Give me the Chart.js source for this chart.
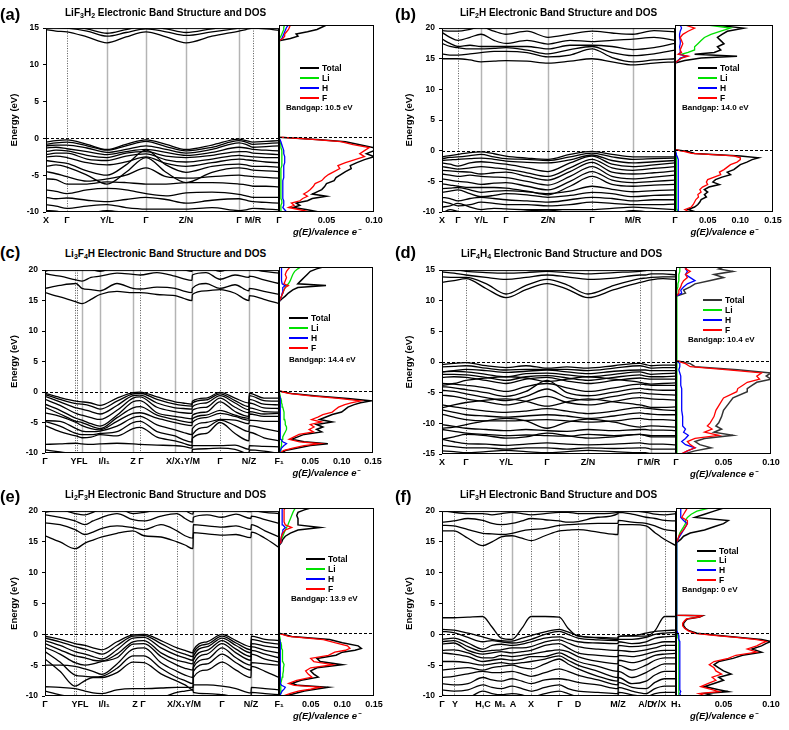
<!DOCTYPE html>
<html><head><meta charset="utf-8">
<script src="https://cdn.jsdelivr.net/npm/chart.js@4.4.1/dist/chart.umd.min.js"></script>
<style>
body{margin:0;background:#fff;width:789px;height:730px;position:relative;overflow:hidden;font-family:"Liberation Sans",Arial,sans-serif;color:#000;}
.lbl{position:absolute;font-weight:bold;font-size:16.5px;line-height:16px;}
.ttl{position:absolute;font-weight:bold;font-size:10px;line-height:10px;white-space:nowrap;}
.ttl sub{font-size:0.7em;vertical-align:-0.35em;line-height:0;}
.lg{position:absolute;font-weight:bold;font-size:8.5px;line-height:8.5px;white-space:nowrap;}
.bar{position:absolute;height:2px;}
</style></head><body>
<script>
// ---------- (a) LiF3H2 ----------
const kA=[0,10,21,41,61,80,100,120,140,166,193,200,207,220,233];
const tickPosA=[0,21,61,100,140,193,207];
const tickLabA=['X','Γ','Y/L','Γ','Z/N','Γ','M/R'];
const linesA=[21,61,100,140,193,207];
const stylesA=['d','g','g','g','g','d'];
const bandsA=[
[-0.5,-0.3,-0.2,-0.8,-1.5,-0.8,-0.2,-0.8,-1.5,-0.9,-0.1,-0.3,-0.5,-0.4,-0.3],
[-0.8,-0.6,-0.5,-1.0,-1.6,-1.0,-0.4,-1.1,-1.7,-1.2,-0.3,-0.5,-0.8,-0.7,-0.6],
[-1.0,-0.9,-0.9,-1.3,-1.9,-1.5,-1.0,-1.5,-2.0,-1.5,-0.6,-0.8,-1.2,-1.1,-1.0],
[-1.3,-1.2,-1.4,-1.8,-2.2,-1.8,-1.5,-1.9,-2.3,-1.9,-1.2,-1.3,-1.5,-1.6,-1.7],
[-1.8,-1.6,-1.7,-2.3,-2.6,-2.0,-1.8,-2.4,-2.6,-2.3,-1.8,-1.8,-2.0,-2.1,-2.2],
[-2.2,-2.0,-2.0,-2.8,-3.0,-2.4,-2.1,-2.9,-3.2,-2.8,-2.3,-2.4,-2.5,-2.6,-2.6],
[-2.5,-2.4,-2.6,-3.3,-3.6,-3.2,-2.5,-3.4,-3.8,-3.3,-2.8,-2.9,-3.0,-3.2,-3.3],
[-3.0,-3.2,-3.4,-4.4,-5.0,-3.6,-1.6,-3.6,-4.6,-3.8,-3.5,-3.6,-3.8,-3.8,-3.9],
[-3.8,-3.6,-3.9,-5.0,-6.2,-4.6,-2.6,-4.6,-6.0,-4.6,-4.0,-4.1,-4.3,-4.4,-4.5],
[-4.5,-4.8,-5.2,-5.8,-5.5,-5.0,-4.0,-5.2,-5.4,-5.2,-5.0,-5.1,-5.2,-5.3,-5.4],
[-5.5,-5.6,-6.2,-6.2,-5.9,-6.0,-6.2,-6.2,-6.0,-6.0,-6.2,-6.3,-6.5,-6.5,-6.6],
[-7.0,-7.2,-7.5,-7.0,-6.8,-7.0,-7.5,-7.8,-7.4,-7.3,-7.6,-7.8,-8.0,-8.0,-8.0],
[-8.0,-8.2,-8.1,-8.4,-8.6,-8.3,-8.0,-8.3,-8.8,-8.4,-8.2,-8.4,-8.6,-8.7,-8.8],
[-9.0,-9.2,-9.5,-9.2,-9.0,-9.4,-9.6,-9.6,-9.6,-9.4,-9.8,-9.7,-9.5,-9.6,-9.7],
[-9.8,-9.9,-10.2,-10.2,-9.8,-10.1,-10.3,-10.2,-10.1,-10.2,-10.3,-10.2,-10.1,-10.2,-10.3],
[14.8,14.6,14.5,13.8,13.0,13.8,14.5,13.8,13.0,13.9,14.6,14.8,15.0,14.9,14.7],
[15.3,15.1,15.0,14.6,13.9,14.4,14.9,14.5,14.0,14.5,15.0,15.2,15.4,15.3,15.1],
[15.6,15.4,15.3,14.9,14.3,14.8,15.3,14.9,14.4,14.9,15.3,15.5,15.6,15.5,15.4]
];
const eDosA=[-10,-9.7,-9.4,-9.1,-8.8,-8.5,-8.2,-7.9,-7.6,-7.3,-7.0,-6.6,-6.2,-5.8,-5.4,-5.0,-4.6,-4.2,-3.8,-3.4,-3.0,-2.6,-2.2,-1.8,-1.4,-1.0,-0.6,-0.3,0,12.9,13.2,13.5,13.8,14.1,14.4,14.7,15];
const totA=[0.042,0.03,0.015,0.022,0.018,0.03,0.035,0.05,0.035,0.04,0.045,0.048,0.05,0.058,0.06,0.065,0.07,0.076,0.075,0.082,0.09,0.1,0.092,0.1,0.1,0.085,0.07,0.04,0,0,0.012,0.02,0.018,0.03,0.04,0.045,0.05];
const fA=[0.032,0.022,0.01,0.016,0.013,0.022,0.025,0.03,0.026,0.03,0.033,0.036,0.038,0.045,0.048,0.052,0.058,0.064,0.062,0.07,0.08,0.09,0.085,0.09,0.095,0.078,0.065,0.035,0,0,0.004,0.006,0.006,0.008,0.01,0.011,0.012];
const liA=[0.002,0.002,0.002,0.002,0.003,0.003,0.002,0.002,0.002,0.002,0.002,0.002,0.002,0.002,0.002,0.002,0.002,0.002,0.003,0.003,0.003,0.003,0.003,0.003,0.002,0.002,0.001,0.001,0,0,0.001,0.002,0.003,0.004,0.005,0.005,0.006];
const hA=[0.008,0.006,0.004,0.005,0.005,0.005,0.004,0.004,0.004,0.004,0.004,0.004,0.004,0.004,0.005,0.005,0.005,0.005,0.005,0.006,0.006,0.006,0.005,0.005,0.004,0.003,0.002,0.001,0,0,0.003,0.004,0.005,0.006,0.007,0.008,0.01];

// ---------- (b) LiF2H ----------
const kB=[0,8,16,28,39,52,64,85,106,128,150,170,191,212,233];
const tickPosB=[0,16,39,64,106,150,191];
const tickLabB=['X','Γ','Y/L','Γ','Z/N','Γ','M/R'];
const linesB=[16,39,64,106,150,191];
const stylesB=['d','g','g','g','d','g'];
const bandsB=[
[-1.0,-0.8,-0.6,-0.3,-0.2,-0.5,-0.9,-1.2,-1.4,-0.6,-0.1,-0.6,-1.0,-1.0,-1.0],
[-1.3,-1.1,-1.0,-0.8,-0.6,-1.0,-1.3,-1.4,-1.6,-1.0,-0.4,-1.0,-1.4,-1.3,-1.2],
[-1.6,-1.5,-1.4,-1.3,-1.2,-1.4,-1.7,-1.9,-2.0,-1.5,-0.7,-1.6,-2.0,-1.8,-1.6],
[-2.0,-2.2,-2.5,-2.0,-1.8,-2.0,-2.2,-2.8,-3.4,-2.0,-0.9,-2.2,-2.6,-2.3,-2.0],
[-2.6,-2.8,-3.0,-2.8,-2.6,-2.8,-3.0,-3.6,-4.2,-2.8,-1.4,-2.8,-3.2,-2.9,-2.6],
[-3.2,-3.3,-3.4,-3.5,-3.8,-3.6,-3.5,-4.2,-4.8,-3.4,-1.9,-3.5,-3.8,-3.6,-3.3],
[-3.8,-4.0,-4.2,-4.0,-4.2,-4.3,-4.4,-5.0,-5.6,-4.2,-2.6,-4.2,-4.6,-4.3,-4.0],
[-4.6,-4.8,-5.0,-5.2,-5.5,-5.3,-5.2,-5.8,-6.4,-5.0,-3.4,-4.8,-5.2,-5.0,-4.8],
[-5.4,-5.6,-5.8,-6.0,-6.0,-6.0,-6.1,-6.6,-7.2,-5.8,-4.2,-5.5,-5.8,-5.6,-5.5],
[-6.2,-6.1,-6.0,-6.4,-6.8,-6.6,-6.5,-6.7,-7.0,-6.6,-5.8,-6.3,-6.7,-6.5,-6.4],
[-6.8,-6.6,-6.4,-7.0,-7.5,-7.3,-7.0,-7.2,-7.6,-7.3,-6.8,-7.0,-7.5,-7.3,-7.2],
[-7.6,-7.8,-8.2,-7.8,-7.6,-7.8,-8.0,-8.2,-8.4,-8.0,-7.6,-7.8,-8.2,-8.0,-8.0],
[-8.3,-8.6,-9.0,-8.8,-8.4,-8.6,-8.8,-8.8,-9.0,-8.8,-8.4,-8.6,-8.8,-8.8,-8.7],
[-9.2,-9.0,-8.6,-9.2,-9.6,-9.4,-9.5,-9.6,-9.6,-9.6,-9.6,-9.4,-9.2,-9.4,-9.6],
[-10.2,-9.6,-9.9,-10.2,-10.3,-10.2,-10.2,-9.8,-9.7,-10.1,-10.2,-10.2,-9.8,-10.1,-10.2],
[15.0,15.0,15.0,14.8,14.5,14.6,14.7,14.6,14.3,14.6,15.0,14.5,14.0,14.3,14.5],
[15.8,15.6,15.6,15.8,16.0,16.2,16.2,16.0,15.3,15.6,16.6,15.2,14.5,14.8,15.0],
[17.5,17.0,16.8,16.6,16.6,16.7,16.8,16.4,15.8,16.5,17.0,16.0,15.5,15.8,16.4],
[18.2,17.5,17.0,17.2,17.0,17.0,17.0,17.0,16.6,17.2,17.2,17.0,16.5,16.8,17.5],
[19.3,18.5,18.0,18.5,19.0,18.0,17.5,18.0,17.4,18.0,17.8,18.0,18.2,18.5,18.0],
[19.6,19.5,19.5,19.8,20.2,19.5,19.0,19.5,18.5,19.0,19.5,19.2,19.0,19.6,19.4]
];
const eDosB=[-10,-9.6,-9.2,-8.8,-8.4,-8.0,-7.6,-7.2,-6.8,-6.4,-6.0,-5.6,-5.2,-4.8,-4.4,-4.0,-3.6,-3.2,-2.8,-2.4,-2.0,-1.6,-1.3,-1.0,-0.6,-0.3,0,13.9,14.3,14.7,15.0,15.3,15.6,16.0,16.5,17.0,17.5,18.0,18.5,19.0,19.5,20];
const totB=[0.032,0.02,0.03,0.035,0.038,0.04,0.048,0.045,0.05,0.045,0.052,0.068,0.058,0.062,0.072,0.085,0.08,0.09,0.095,0.1,0.11,0.118,0.128,0.1,0.03,0.02,0,0,0.015,0.04,0.095,0.03,0.06,0.07,0.065,0.075,0.07,0.065,0.072,0.08,0.105,0.06];
const fB=[0.022,0.015,0.025,0.028,0.03,0.032,0.036,0.035,0.04,0.038,0.042,0.05,0.048,0.05,0.06,0.07,0.068,0.075,0.08,0.085,0.095,0.1,0.1,0.09,0.025,0.015,0,0,0.005,0.01,0.02,0.005,0.01,0.008,0.01,0.012,0.01,0.008,0.012,0.02,0.03,0.015];
const liB=[0.004,0.003,0.003,0.003,0.003,0.002,0.002,0.002,0.002,0.002,0.002,0.002,0.002,0.002,0.002,0.002,0.002,0.002,0.002,0.002,0.002,0.002,0.002,0.002,0.001,0.001,0,0,0.004,0.01,0.015,0.01,0.02,0.03,0.03,0.035,0.04,0.045,0.055,0.07,0.085,0.05];
const hB=[0.006,0.005,0.005,0.005,0.005,0.005,0.005,0.005,0.005,0.005,0.005,0.005,0.005,0.005,0.005,0.005,0.005,0.005,0.005,0.005,0.005,0.005,0.004,0.003,0.002,0.001,0,0,0.005,0.008,0.018,0.006,0.008,0.008,0.007,0.008,0.008,0.007,0.007,0.008,0.01,0.008];

// ---------- (c) Li3F4H ----------
const kC=[0,15,31,37,46,55,72,88,95,112,130,138,147,147.3,161,175,190,204,204.3,219,234];
const tickPosC=[0,34,59,92,138,175,204];
const tickLabC=['Γ','YFL','I/I₁','Z Γ','X/X₁Y/M','Γ','N/Z'];
const linesC=[30,32,37,55,88,95,130,147,175,204];
const stylesC=['d','d','g','g','g','d','g','g','d','g'];
const bandsC=[
[-0.2,-0.9,-1.5,-1.6,-1.8,-2.2,-1.0,-0.1,0.0,-0.8,-1.6,-1.8,-2.0,-1.5,-1.0,-0.05,-1.0,-1.8,-0.2,-1.0,-1.0],
[-0.4,-1.2,-1.9,-2.0,-2.3,-2.8,-1.5,-0.3,-0.2,-1.2,-2.0,-2.2,-2.3,-1.8,-1.3,-0.3,-1.4,-2.4,-0.6,-1.4,-1.5],
[-0.7,-1.6,-2.6,-2.8,-3.2,-3.6,-2.2,-0.6,-0.5,-1.8,-2.6,-2.7,-2.8,-2.4,-1.8,-0.6,-1.8,-2.9,-1.2,-2.0,-2.1],
[-1.2,-2.2,-3.5,-3.8,-4.2,-4.5,-3.0,-1.0,-0.8,-2.5,-3.2,-3.4,-3.5,-3.0,-2.5,-1.0,-2.5,-3.4,-1.8,-2.6,-2.7],
[-2.0,-3.0,-4.3,-4.6,-5.2,-5.6,-3.8,-1.6,-1.4,-3.4,-4.0,-4.2,-4.4,-3.8,-3.3,-1.6,-3.2,-4.0,-2.6,-3.2,-3.3],
[-2.5,-3.6,-4.8,-5.0,-5.6,-6.0,-4.2,-2.6,-2.4,-3.8,-4.5,-4.8,-5.0,-4.4,-3.8,-3.0,-3.8,-4.3,-3.2,-3.6,-3.5],
[-3.4,-4.0,-5.0,-5.5,-6.0,-6.2,-4.8,-3.5,-3.4,-4.3,-5.0,-5.3,-5.5,-5.0,-4.2,-3.5,-4.0,-4.6,-3.6,-4.0,-4.0],
[-4.7,-4.8,-6.0,-6.4,-6.5,-6.4,-5.6,-4.2,-4.0,-5.4,-6.2,-6.6,-7.0,-6.0,-5.0,-4.5,-4.6,-5.2,-4.6,-4.8,-4.8],
[-4.8,-5.6,-6.8,-7.0,-7.0,-6.8,-6.5,-5.0,-4.8,-6.5,-7.2,-7.8,-8.2,-7.0,-5.8,-4.6,-5.5,-6.5,-5.5,-6.0,-6.5],
[-5.5,-6.5,-7.2,-7.5,-7.4,-7.0,-7.2,-6.0,-5.8,-7.4,-8.0,-8.4,-8.8,-7.6,-6.8,-5.0,-6.8,-8.0,-6.6,-7.5,-8.0],
[-8.6,-8.5,-8.4,-8.5,-8.6,-8.5,-8.4,-8.5,-8.6,-8.7,-8.8,-8.9,-9.2,-8.8,-8.8,-8.8,-8.7,-9.4,-8.8,-8.9,-9.0],
[-9.5,-9.8,-10.2,-10.3,-10.3,-10.2,-10.2,-10.3,-10.3,-10.2,-10.2,-10.3,-10.2,-9.4,-9.3,-9.2,-9.4,-10.1,-9.5,-9.7,-10.1],
[16.3,15.6,14.8,14.5,15.2,16.0,16.5,16.3,16.3,16.0,15.8,15.4,15.0,16.0,16.6,16.8,16.2,15.0,15.8,15.2,14.5],
[17.0,17.5,17.8,17.0,16.8,16.6,17.8,17.0,16.9,17.2,17.0,16.6,16.3,17.0,17.8,17.0,17.6,16.6,17.0,16.5,16.0],
[19.4,19.0,18.4,18.2,18.8,19.0,19.5,19.3,19.2,19.6,19.0,18.6,18.3,19.2,19.6,18.5,19.2,18.8,19.0,18.4,17.8],
[19.8,20.5,20.5,20.2,20.1,19.8,20.5,20.2,20.1,20.5,20.3,20.1,19.8,20.2,20.5,19.8,20.4,20.1,20.2,19.8,19.5]
];
const eDosC=[-10,-9.6,-9.2,-8.8,-8.5,-8.2,-7.8,-7.4,-7.0,-6.6,-6.2,-5.8,-5.4,-5.0,-4.6,-4.2,-3.8,-3.4,-3.0,-2.6,-2.2,-1.9,-1.6,-1.2,-0.8,-0.4,0,14.4,14.8,15.3,15.8,16.3,16.7,17.0,17.3,17.8,18.3,18.8,19.3,19.7,20];
const totC=[0.004,0.01,0.03,0.05,0.078,0.04,0.02,0.03,0.04,0.068,0.06,0.07,0.06,0.085,0.065,0.075,0.085,0.1,0.105,0.11,0.12,0.13,0.147,0.11,0.06,0.02,0,0,0.004,0.01,0.015,0.022,0.03,0.075,0.03,0.035,0.04,0.045,0.05,0.06,0.07];
const fC=[0.002,0.007,0.022,0.04,0.065,0.033,0.016,0.024,0.032,0.055,0.048,0.056,0.05,0.068,0.052,0.062,0.07,0.085,0.09,0.095,0.105,0.115,0.13,0.095,0.05,0.015,0,0,0.002,0.004,0.006,0.008,0.01,0.015,0.008,0.01,0.012,0.01,0.012,0.015,0.018];
const liC=[0.001,0.002,0.003,0.004,0.004,0.004,0.005,0.006,0.008,0.01,0.012,0.012,0.01,0.01,0.009,0.008,0.008,0.008,0.007,0.006,0.005,0.004,0.004,0.003,0.002,0.001,0,0,0.002,0.004,0.006,0.008,0.01,0.012,0.015,0.018,0.02,0.022,0.025,0.03,0.035];
const hC=[0.001,0.002,0.004,0.008,0.012,0.006,0.003,0.002,0.002,0.002,0.002,0.002,0.002,0.002,0.002,0.002,0.002,0.002,0.002,0.002,0.002,0.002,0.002,0.002,0.001,0.001,0,0,0.002,0.004,0.005,0.006,0.006,0.01,0.005,0.004,0.004,0.004,0.004,0.004,0.004];

// ---------- (d) LiF4H4 ----------
const kD=[0,12,24,44,64,84,105,125,146,172,198,203.5,209,221,234];
const tickPosD=[0,24,64,105,146,198,210];
const tickLabD=['X','Γ','Y/L','Γ','Z/N','Γ','M/R'];
const linesD=[24,64,105,146,198,209];
const stylesD=['d','g','g','g','d','g'];
const bandsD=[
[-0.4,-0.2,-0.1,-0.6,-0.9,-0.6,-1.0,-0.8,-1.0,-0.6,-0.2,-0.4,-0.6,-0.5,-0.5],
[-0.8,-0.7,-0.6,-1.0,-1.3,-1.2,-1.2,-1.2,-1.4,-1.0,-0.6,-0.8,-1.0,-0.9,-0.9],
[-1.6,-1.4,-1.2,-1.4,-1.7,-1.5,-1.3,-1.6,-1.9,-1.5,-1.3,-1.3,-1.4,-1.4,-1.4],
[-1.6,-1.5,-1.6,-2.0,-2.4,-1.9,-1.8,-2.1,-2.4,-2.0,-1.6,-1.8,-2.0,-1.9,-1.8],
[-2.0,-2.0,-2.1,-2.5,-3.0,-2.4,-2.2,-2.6,-3.0,-2.5,-2.1,-2.3,-2.4,-2.4,-2.3],
[-2.5,-2.4,-2.5,-3.0,-3.5,-2.8,-2.5,-3.1,-3.5,-3.0,-2.6,-2.7,-2.8,-2.8,-2.8],
[-3.8,-3.5,-3.0,-2.6,-2.4,-2.6,-3.2,-2.8,-2.4,-2.8,-3.3,-3.5,-3.6,-3.5,-3.4],
[-3.5,-3.6,-3.8,-4.2,-4.8,-4.0,-3.5,-4.2,-4.8,-4.2,-3.6,-3.7,-3.8,-3.8,-3.8],
[-4.0,-4.2,-4.5,-5.0,-5.6,-4.8,-3.0,-5.0,-5.5,-4.9,-4.3,-4.4,-4.5,-4.6,-4.6],
[-4.6,-4.8,-5.2,-5.8,-6.3,-5.6,-4.4,-5.8,-6.2,-5.6,-5.0,-5.1,-5.2,-5.3,-5.4],
[-5.4,-5.6,-6.0,-6.5,-7.0,-6.4,-5.6,-6.6,-7.0,-6.4,-5.8,-5.9,-6.0,-6.1,-6.2],
[-7.5,-7.0,-6.6,-6.2,-6.0,-6.4,-7.2,-6.5,-6.0,-6.5,-7.0,-7.2,-7.4,-7.4,-7.3],
[-7.0,-7.3,-7.6,-8.0,-8.2,-8.0,-7.6,-8.0,-8.4,-8.0,-7.4,-7.5,-7.6,-7.8,-7.9],
[-7.8,-8.2,-8.6,-8.8,-9.0,-8.8,-8.6,-8.8,-9.2,-8.8,-8.3,-8.4,-8.5,-8.6,-8.6],
[-8.5,-9.0,-9.4,-9.6,-9.6,-9.5,-9.4,-9.6,-9.8,-9.6,-9.2,-9.3,-9.4,-9.4,-9.5],
[-10.8,-10.6,-10.2,-9.6,-9.2,-9.6,-10.8,-9.8,-9.3,-9.8,-10.6,-10.5,-10.4,-10.5,-10.6],
[-10.2,-10.5,-10.8,-11.0,-11.2,-11.0,-11.2,-11.3,-11.0,-11.2,-11.0,-11.0,-11.1,-11.1,-11.2],
[-11.0,-11.3,-11.6,-11.8,-12.0,-11.9,-12.0,-12.1,-11.8,-12.0,-11.8,-11.9,-12.0,-12.0,-12.0],
[-12.6,-12.2,-11.8,-12.0,-12.4,-12.2,-11.6,-12.0,-12.4,-12.2,-11.8,-12.0,-12.2,-12.2,-12.2],
[-12.6,-13.0,-13.3,-13.4,-13.6,-13.4,-13.2,-13.4,-13.5,-13.4,-13.2,-13.3,-13.4,-13.4,-13.5],
[-13.6,-13.8,-14.0,-14.0,-14.2,-14.0,-14.0,-14.2,-14.0,-14.1,-14.0,-14.0,-14.2,-14.2,-14.2],
[-14.5,-14.6,-14.8,-14.6,-14.4,-14.6,-14.8,-14.6,-14.4,-14.6,-14.8,-14.8,-14.9,-14.9,-14.9],
[13.0,13.3,13.6,12.0,10.5,11.8,12.8,11.9,10.5,11.8,13.0,13.2,13.4,13.6,13.5],
[13.9,13.8,13.8,12.8,11.1,12.5,13.5,12.6,11.1,12.5,13.6,13.7,13.8,13.9,13.9],
[14.7,14.5,14.2,13.8,13.5,13.8,14.2,13.9,13.5,13.7,14.2,14.2,14.4,14.4,14.2],
[15.2,15.1,14.8,14.6,14.5,14.6,14.8,14.6,14.4,14.6,14.8,14.9,15.1,15.1,15.1]
];
const eDosD=[-15,-14.5,-14,-13.5,-13,-12.5,-12,-11.5,-11,-10.5,-10,-9,-8,-7,-6,-5,-4.5,-4,-3.5,-3,-2.5,-2,-1.5,-1,-0.5,0,10.3,10.8,11.3,11.8,12.3,12.8,13.3,13.8,14.3,14.7,15];
const totD=[0.008,0.02,0.037,0.025,0.02,0.03,0.06,0.04,0.048,0.042,0.045,0.048,0.05,0.055,0.06,0.075,0.075,0.08,0.085,0.1,0.095,0.1,0.065,0.02,0.015,0,0,0.01,0.008,0.015,0.02,0.035,0.05,0.04,0.06,0.045,0.05];
const fD=[0.005,0.012,0.02,0.015,0.012,0.02,0.045,0.03,0.038,0.033,0.036,0.04,0.042,0.046,0.05,0.064,0.065,0.07,0.075,0.088,0.085,0.09,0.055,0.015,0.01,0,0,0.003,0.003,0.005,0.006,0.008,0.012,0.01,0.015,0.01,0.012];
const liD=[0.001,0.001,0.001,0.001,0.001,0.001,0.001,0.001,0.001,0.001,0.001,0.001,0.001,0.001,0.001,0.001,0.001,0.001,0.001,0.001,0.001,0.001,0.001,0.001,0.001,0,0,0.001,0.001,0.002,0.002,0.003,0.003,0.003,0.004,0.004,0.004];
const hD=[0.006,0.012,0.02,0.01,0.006,0.01,0.013,0.008,0.01,0.007,0.007,0.007,0.006,0.006,0.006,0.006,0.006,0.005,0.005,0.005,0.005,0.004,0.003,0.004,0.004,0,0,0.006,0.005,0.008,0.012,0.02,0.015,0.01,0.012,0.01,0.012];

// ---------- (e) Li2F3H ----------
const kE=[0,15,30,40,48,57,72,88,99,116,132,140,148,148.3,162,177,191,206,206.3,220,234];
const tickPosE=[0,35,59,94,139,177,206];
const tickLabE=['Γ','YFL','I/I₁','Z Γ','X/X₁Y/M','Γ','N/Z'];
const linesE=[29,31,40,57,88,99,132,148,177,206];
const stylesE=['d','d','d','d','d','d','d','g','d','g'];
const bandsE=[
[-0.3,-0.8,-1.5,-1.8,-2.2,-2.5,-1.2,-0.1,0.0,-1.0,-2.2,-2.6,-3.0,-2.6,-1.2,0.0,-1.0,-2.0,-0.3,-0.8,-1.0],
[-0.6,-1.2,-2.0,-2.4,-2.8,-3.2,-1.8,-0.3,-0.2,-1.5,-2.8,-3.2,-3.6,-3.0,-1.6,-0.3,-1.4,-2.5,-0.8,-1.3,-1.6],
[-1.0,-1.8,-2.8,-3.2,-3.6,-4.0,-2.5,-0.6,-0.5,-2.2,-3.4,-3.8,-4.2,-3.6,-2.0,-0.6,-1.8,-3.0,-1.5,-1.9,-2.2],
[-1.5,-2.5,-3.5,-3.8,-4.2,-4.3,-3.2,-1.2,-1.0,-3.0,-4.2,-4.5,-4.8,-4.2,-2.6,-1.0,-2.4,-3.6,-2.0,-2.6,-3.0],
[-2.1,-3.2,-4.6,-5.0,-4.8,-4.4,-3.8,-1.6,-1.5,-3.6,-5.0,-5.5,-5.8,-5.0,-3.2,-1.5,-3.0,-4.2,-2.6,-3.2,-3.8],
[-5.0,-5.0,-5.2,-5.6,-6.0,-6.5,-4.8,-2.4,-2.2,-4.6,-6.0,-6.6,-7.0,-5.4,-4.0,-2.2,-3.8,-5.0,-3.2,-4.0,-4.5],
[-2.8,-4.5,-6.6,-6.8,-6.9,-6.8,-5.5,-3.5,-3.5,-5.5,-7.0,-7.5,-8.0,-6.0,-4.8,-3.2,-4.6,-5.8,-4.6,-4.8,-5.0],
[-4.0,-6.0,-8.4,-7.5,-7.0,-7.0,-6.2,-4.5,-4.6,-6.4,-7.6,-8.2,-9.0,-7.0,-5.8,-4.5,-5.8,-7.0,-5.2,-6.0,-7.0],
[-8.5,-8.6,-8.8,-9.2,-9.5,-9.6,-9.0,-8.8,-8.8,-8.7,-8.6,-8.6,-8.6,-8.2,-8.2,-8.4,-8.8,-9.5,-8.6,-8.8,-9.0],
[-9.2,-9.8,-10.2,-10.3,-10.3,-10.2,-10.3,-10.2,-10.3,-10.2,-9.4,-9.2,-9.0,-9.4,-9.6,-9.8,-10.1,-10.2,-9.4,-9.6,-9.8],
[16.0,15.0,13.9,14.8,15.3,15.8,16.4,16.8,16.0,15.8,15.0,14.5,13.9,16.5,16.3,16.1,16.2,15.7,16.6,15.6,14.1],
[18.1,17.8,17.0,16.2,16.6,17.2,17.6,17.3,17.0,17.8,16.8,16.0,15.6,17.8,17.6,17.4,17.6,17.0,17.8,16.8,15.8],
[19.4,19.0,18.4,17.8,18.4,19.0,19.6,18.6,18.4,19.2,19.6,18.8,18.2,19.0,19.4,19.0,19.5,18.8,19.2,18.6,18.0],
[19.8,20.2,19.6,19.4,19.8,20.4,20.5,19.6,19.8,20.3,20.4,20.1,19.5,19.9,20.3,20.1,20.2,19.9,20.1,19.8,19.6]
];
const eDosE=[-10,-9.6,-9.2,-8.9,-8.6,-8.3,-8.0,-7.5,-7.0,-6.5,-6.0,-5.5,-5.0,-4.5,-4.0,-3.5,-3.0,-2.7,-2.4,-2.0,-1.5,-1.0,-0.5,0,14.0,14.5,15.0,15.5,16.0,16.5,16.9,17.3,17.8,18.3,18.8,19.3,19.7,20];
const totE=[0.01,0.025,0.04,0.06,0.078,0.03,0.02,0.035,0.062,0.055,0.05,0.06,0.1,0.065,0.06,0.09,0.1,0.12,0.13,0.125,0.1,0.08,0.02,0,0,0.004,0.006,0.01,0.018,0.03,0.065,0.03,0.03,0.03,0.028,0.03,0.04,0.05];
const fE=[0.006,0.018,0.032,0.05,0.065,0.024,0.015,0.028,0.052,0.046,0.042,0.05,0.085,0.055,0.05,0.078,0.088,0.105,0.112,0.108,0.088,0.07,0.015,0,0,0.002,0.003,0.004,0.006,0.01,0.02,0.01,0.008,0.008,0.008,0.008,0.008,0.01];
const liE=[0.001,0.002,0.002,0.003,0.003,0.003,0.003,0.004,0.005,0.006,0.007,0.007,0.008,0.006,0.006,0.006,0.005,0.005,0.004,0.004,0.003,0.002,0.001,0,0,0.002,0.004,0.006,0.008,0.01,0.012,0.014,0.016,0.018,0.02,0.022,0.024,0.026];
const hE=[0.001,0.003,0.005,0.008,0.01,0.004,0.002,0.002,0.002,0.002,0.002,0.002,0.002,0.002,0.002,0.002,0.002,0.002,0.002,0.002,0.002,0.001,0.001,0,0,0.002,0.003,0.004,0.005,0.006,0.01,0.006,0.005,0.005,0.005,0.005,0.005,0.005];

// ---------- (f) LiF3H ----------
const kF=[0,11.7,26,40.7,50,59.3,70,80,89,103,117.3,126,136,156,176,176.3,190,204,213,222.7,234];
const tickPosF=[0,13,41,58,71,89,118,136,176,204,217];
const tickLabF=['Γ','Y','H,C','M₁','A','X','Γ','D','M/Z','A/D','Y/X'];
const linesF=[11.7,40.7,59.3,70,89,117.3,136,176,204,222.7];
const stylesF=['d','d','d','g','d','d','d','g','g','d'];
const bandsF=[
[2.7,2.7,2.8,2.9,1.2,-0.6,-0.8,1.0,2.9,2.9,2.8,1.0,-0.3,-0.5,-0.6,-0.3,-0.3,-0.3,0.6,2.9,2.9],
[0.8,0.7,0.2,-0.4,-0.8,-1.0,-1.1,-0.6,-0.2,0.4,0.8,0.4,-0.2,-0.6,-0.8,-0.4,-0.2,0.2,0.5,0.6,0.7],
[0.5,0.3,-0.5,-1.2,-1.0,-1.2,-1.4,-1.2,-0.8,0.0,0.5,0.0,-0.6,-0.9,-1.0,-0.8,-0.8,-0.5,0.0,0.2,0.3],
[-0.8,-0.6,-1.4,-2.4,-1.8,-1.6,-1.8,-1.6,-1.2,-0.6,-0.4,-0.8,-1.2,-1.4,-1.5,-1.2,-1.5,-1.2,-0.6,-0.4,-0.3],
[-1.2,-1.0,-2.0,-2.8,-2.6,-2.5,-2.2,-2.2,-2.0,-1.2,-0.9,-1.4,-2.0,-2.4,-2.6,-1.8,-2.0,-1.8,-1.5,-1.2,-1.2],
[-1.6,-1.4,-2.6,-3.2,-3.0,-2.8,-3.0,-2.8,-2.6,-1.8,-1.5,-2.2,-3.0,-3.4,-3.6,-2.6,-2.8,-2.5,-2.2,-1.8,-1.8],
[-2.6,-2.5,-3.0,-3.8,-3.8,-3.4,-3.6,-3.4,-3.2,-2.8,-2.5,-2.8,-3.6,-4.4,-4.8,-3.4,-3.6,-3.2,-2.8,-2.6,-2.6],
[-3.0,-3.2,-3.6,-4.4,-4.2,-4.0,-4.2,-4.0,-3.6,-3.6,-3.0,-3.6,-4.4,-5.2,-6.0,-4.2,-4.6,-4.0,-3.4,-3.2,-3.1],
[-4.4,-4.4,-4.6,-5.0,-4.8,-4.6,-4.8,-4.6,-4.4,-4.0,-3.5,-4.2,-5.0,-6.0,-7.0,-5.0,-5.8,-5.0,-4.2,-3.8,-3.8],
[-5.8,-5.6,-5.4,-5.8,-5.4,-5.2,-5.0,-5.4,-5.6,-4.8,-4.0,-4.8,-5.6,-6.8,-7.6,-6.0,-7.0,-6.2,-5.4,-4.8,-4.8],
[-7.0,-6.8,-6.4,-6.0,-6.2,-6.2,-6.0,-6.4,-6.8,-6.2,-5.6,-6.0,-6.6,-7.4,-8.2,-7.0,-8.0,-7.6,-6.6,-6.0,-6.0],
[-8.0,-8.2,-8.0,-7.0,-7.4,-7.6,-7.2,-7.6,-8.0,-7.4,-7.2,-7.4,-7.8,-8.2,-8.8,-7.8,-8.6,-8.8,-7.8,-7.2,-7.2],
[-9.0,-9.2,-9.0,-8.2,-8.6,-8.8,-8.4,-8.8,-9.2,-8.6,-8.2,-8.8,-9.2,-9.4,-9.6,-8.6,-9.2,-9.6,-8.8,-8.4,-8.4],
[-9.8,-10.2,-10.2,-9.2,-9.6,-9.8,-9.6,-9.8,-10.2,-9.6,-9.2,-9.6,-10.1,-10.2,-10.2,-9.4,-9.8,-10.1,-9.6,-9.4,-9.4],
[16.8,16.8,15.6,14.4,15.0,15.8,16.0,15.6,15.2,16.0,16.8,16.9,17.0,16.6,16.2,17.8,17.8,17.6,16.5,15.4,14.4],
[17.7,17.6,17.0,16.4,16.3,16.2,16.4,16.8,17.0,17.2,17.7,17.8,17.9,18.0,18.0,18.5,18.2,18.0,17.6,17.0,16.8],
[18.2,18.4,18.8,18.5,18.0,17.8,18.0,18.4,18.8,18.6,18.4,18.2,18.3,19.0,19.6,19.8,19.5,19.0,18.8,18.5,18.4],
[20.1,19.8,19.6,19.6,19.4,19.6,19.8,19.6,19.4,19.6,19.8,19.8,19.6,19.6,19.8,20.2,20.1,19.8,19.5,19.4,19.6]
];
const eDosF=[-10,-9.6,-9.3,-9.0,-8.5,-8.0,-7.5,-7.0,-6.5,-6.0,-5.5,-5.0,-4.5,-4.0,-3.5,-3.0,-2.5,-2.0,-1.6,-1.3,-1.0,-0.7,-0.4,0,0.4,0.8,1.2,1.6,2.0,2.3,2.6,2.8,2.9,14.4,15,15.5,16,16.5,17,17.5,18,18.5,19,19.5,20];
const totF=[0.04,0.03,0.055,0.045,0.03,0.04,0.05,0.045,0.058,0.05,0.045,0.04,0.045,0.06,0.07,0.09,0.08,0.09,0.095,0.1,0.09,0.07,0.048,0.022,0.014,0.01,0.008,0.008,0.01,0.012,0.025,0.028,0,0,0.005,0.008,0.015,0.03,0.04,0.05,0.055,0.02,0.03,0.04,0.05];
const fF=[0.032,0.024,0.045,0.038,0.026,0.034,0.042,0.038,0.048,0.042,0.04,0.035,0.04,0.055,0.063,0.085,0.075,0.085,0.09,0.095,0.085,0.066,0.045,0.02,0.013,0.009,0.007,0.007,0.009,0.011,0.024,0.027,0,0,0.002,0.003,0.005,0.008,0.01,0.012,0.012,0.006,0.008,0.01,0.012];
const liF=[0.003,0.003,0.003,0.003,0.003,0.003,0.003,0.003,0.003,0.003,0.003,0.003,0.003,0.003,0.003,0.003,0.003,0.003,0.003,0.003,0.003,0.002,0.002,0.001,0.001,0.001,0.001,0.001,0.001,0.001,0.001,0.001,0,0,0.002,0.003,0.004,0.006,0.008,0.01,0.01,0.012,0.016,0.022,0.035];
const hF=[0.005,0.004,0.005,0.004,0.004,0.004,0.004,0.004,0.004,0.004,0.004,0.004,0.004,0.004,0.004,0.004,0.004,0.004,0.004,0.004,0.003,0.003,0.003,0.002,0.001,0.001,0.001,0.001,0.001,0.001,0.001,0.001,0,0,0.002,0.004,0.006,0.008,0.01,0.012,0.008,0.005,0.005,0.005,0.005];

// ---------- layout / assembly ----------
const FONT='"Liberation Sans", Arial, sans-serif';
Chart.defaults.font.family=FONT;
Chart.defaults.color='#000';
const PADT=6, XH=18, DXH=26, DPL=15, DPR=16;

const panels=[
 {lab:'(a)',ttl:'LiF<sub>3</sub>H<sub>2</sub> Electronic Band Structure and DOS',gap:'10.5',x0:0,plotL:46,dosL:279,dosR:374,T:25,B:212,ymin:-10,ymax:15,
  k:kA,bands:bandsA,tp:tickPosA,tl:tickLabA,ln:linesA,st:stylesA,e:eDosA,tot:totA,li:liA,h:hA,f:fA,dmax:0.10,dt:[0,0.05,0.10],endLab:'Γ',
  lx:300,ly:68,ldy:10,bx:286,by:108,ty:12.5,tx:65,lby:13.5,totCol:'#000'},
 {lab:'(b)',ttl:'LiF<sub>2</sub>H Electronic Band Structure and DOS',gap:'14.0',x0:395,plotL:442,dosL:675,dosR:773,T:25,B:212,ymin:-10,ymax:20,
  k:kB,bands:bandsB,tp:tickPosB,tl:tickLabB,ln:linesB,st:stylesB,e:eDosB,tot:totB,li:liB,h:hB,f:fB,dmax:0.15,dt:[0,0.05,0.10,0.15],endLab:'Γ',
  lx:698,ly:68,ldy:10,bx:682,by:108,ty:12.5,tx:460,lby:13.5,totCol:'#000'},
 {lab:'(c)',ttl:'Li<sub>3</sub>F<sub>4</sub>H Electronic Band Structure and DOS',gap:'14.4',x0:0,plotL:45,dosL:279,dosR:373,T:267,B:453,ymin:-10,ymax:20,
  k:kC,bands:bandsC,tp:tickPosC,tl:tickLabC,ln:linesC,st:stylesC,e:eDosC,tot:totC,li:liC,h:hC,f:fC,dmax:0.15,dt:[0,0.05,0.10,0.15],endLab:'F₁',
  lx:289,ly:318,ldy:10,bx:289,by:360,ty:254,tx:65,lby:251.5,totCol:'#000'},
 {lab:'(d)',ttl:'LiF<sub>4</sub>H<sub>4</sub> Electronic Band Structure and DOS',gap:'10.4',x0:395,plotL:442,dosL:676,dosR:771,T:267,B:454,ymin:-15,ymax:15,
  k:kD,bands:bandsD,tp:tickPosD,tl:tickLabD,ln:linesD,st:stylesD,e:eDosD,tot:totD,li:liD,h:hD,f:fD,dmax:0.10,dt:[0,0.05,0.10],endLab:'Γ',
  lx:703,ly:300,ldy:10,bx:688,by:340,ty:254,tx:461,lby:251.5,totCol:'#333'},
 {lab:'(e)',ttl:'Li<sub>2</sub>F<sub>3</sub>H Electronic Band Structure and DOS',gap:'13.9',x0:0,plotL:45,dosL:279,dosR:374,T:508,B:696,ymin:-10,ymax:20,
  k:kE,bands:bandsE,tp:tickPosE,tl:tickLabE,ln:linesE,st:stylesE,e:eDosE,tot:totE,li:liE,h:hE,f:fE,dmax:0.15,dt:[0,0.05,0.10,0.15],endLab:'F₁',
  lx:306,ly:559,ldy:10,bx:291,by:599,ty:495,tx:65,lby:496,totCol:'#000'},
 {lab:'(f)',ttl:'LiF<sub>3</sub>H Electronic Band Structure and DOS',gap:'0',x0:395,plotL:442,dosL:676,dosR:771,T:508,B:696,ymin:-10,ymax:20,
  k:kF,bands:bandsF,tp:tickPosF,tl:tickLabF,ln:linesF,st:stylesF,e:eDosF,tot:totF,li:liF,h:hF,f:fF,dmax:0.10,dt:[0,0.05,0.10],endLab:'H₁',
  lx:697,ly:551,ldy:9.7,bx:682,by:590,ty:495,tx:460,lby:496,totCol:'#000'}
];

function mkCanvas(l,t,w,h){
  const c=document.createElement('canvas');
  c.width=w;c.height=h;
  c.style.cssText=`position:absolute;left:${l}px;top:${t}px;width:${w}px;height:${h}px`;
  document.body.appendChild(c);return c;
}
function mkDiv(cls,l,t,html,extra){
  const d=document.createElement('div');d.className=cls;
  d.style.left=l+'px';d.style.top=t+'px';
  if(extra)Object.assign(d.style,extra);
  d.innerHTML=html;document.body.appendChild(d);return d;
}

const framePlugin={
  id:'frame',
  beforeDatasetsDraw(chart,args,opts){
    const {ctx,chartArea:a,scales:{x}}=chart;
    (opts.lines||[]).forEach((v,i)=>{
      const px=Math.round(x.getPixelForValue(v))+0.5;
      ctx.save();
      if(opts.styles[i]==='g'){ctx.strokeStyle='#b4b4b4';ctx.lineWidth=1.5;ctx.setLineDash([]);}
      else{ctx.strokeStyle='#555';ctx.lineWidth=1;ctx.setLineDash([1,1.5]);}
      ctx.beginPath();ctx.moveTo(px,a.top);ctx.lineTo(px,a.bottom);ctx.stroke();ctx.restore();
    });
  },
  afterDatasetsDraw(chart){
    const {ctx,chartArea:a,scales:{y}}=chart;
    const py=Math.round(y.getPixelForValue(0))+0.5;
    ctx.save();
    ctx.strokeStyle='#000';ctx.lineWidth=1;ctx.setLineDash([3,2]);
    ctx.beginPath();ctx.moveTo(a.left,py);ctx.lineTo(a.right,py);ctx.stroke();
    ctx.setLineDash([]);
    ctx.strokeRect(a.left+0.5,a.top+0.5,a.right-a.left-1,a.bottom-a.top-1);
    ctx.restore();
  }
};

const tickFont={family:FONT,size:9,weight:'bold'};

function bandChart(p){
  const w=p.dosL-p.x0, h=p.B-p.T+PADT+XH;
  const cv=mkCanvas(p.x0,p.T-PADT,w,h);
  const datasets=p.bands.map(b=>({
    data:b.map((e,i)=>({x:p.k[i],y:e})),
    borderColor:'#000',borderWidth:1.3,pointRadius:0,fill:false,
    cubicInterpolationMode:'monotone'
  }));
  new Chart(cv,{type:'line',data:{datasets},
    options:{responsive:false,animation:false,events:[],
      layout:{padding:{top:PADT,left:0,right:0,bottom:0}},
      plugins:{legend:{display:false},tooltip:{enabled:false},frame:{lines:p.ln,styles:p.st}},
      scales:{
        x:{type:'linear',min:0,max:p.k[p.k.length-1],
          afterBuildTicks:s=>{s.ticks=p.tp.map(v=>({value:v}));},
          afterFit:s=>{s.height=XH;},
          ticks:{autoSkip:false,maxRotation:0,padding:3,font:tickFont,color:'#000',callback:(v,i)=>p.tl[i]},
          grid:{display:false,drawTicks:false},border:{display:false}},
        y:{type:'linear',min:p.ymin,max:p.ymax,
          afterFit:s=>{s.width=p.plotL-p.x0;},
          ticks:{stepSize:5,padding:4,font:{family:FONT,size:8.5,weight:'bold'},color:'#000'},
          grid:{drawOnChartArea:false,drawTicks:true,tickLength:3,color:'#000'},border:{display:false},
          title:{display:true,text:'Energy (eV)',font:{family:FONT,size:9.5,weight:'bold'},color:'#000',padding:{top:9,bottom:0}}}
      }},
    plugins:[framePlugin]});
}

function dosChart(p){
  const w=p.dosR-p.dosL+DPL+DPR, h=p.B-p.T+PADT+DXH;
  const cv=mkCanvas(p.dosL-DPL,p.T-PADT,w,h);
  const series=[[p.tot,p.totCol,4,1.5],[p.li,'#00e000',3,1.3],[p.h,'#0000ff',2,1.3],[p.f,'#ff0000',1,1.3]];
  const datasets=series.map(([vals,col,ord,bw])=>({
    data:vals.map((v,i)=>({x:v,y:p.e[i]})),
    borderColor:col,borderWidth:bw,pointRadius:0,fill:false,tension:0,order:ord
  }));
  new Chart(cv,{type:'line',data:{datasets},
    options:{responsive:false,animation:false,events:[],
      layout:{padding:{top:PADT,left:DPL,right:DPR,bottom:0}},
      plugins:{legend:{display:false},tooltip:{enabled:false},frame:{lines:[],styles:[]}},
      scales:{
        x:{type:'linear',min:0,max:p.dmax,
          afterBuildTicks:s=>{s.ticks=p.dt.map(v=>({value:v}));},
          afterFit:s=>{s.height=DXH;},
          ticks:{autoSkip:false,maxRotation:0,padding:3,font:tickFont,color:'#000',callback:(v,i)=>i===0?p.endLab:v.toFixed(2)},
          grid:{display:false,drawTicks:false},border:{display:false},
          title:{display:true,text:'g(E)/valence e⁻',font:{family:FONT,size:9.5,weight:'bold',style:'italic'},color:'#000',padding:{top:0,bottom:0}}},
        y:{type:'linear',display:false,min:p.ymin,max:p.ymax}
      }},
    plugins:[framePlugin]});
}

panels.forEach(p=>{
  bandChart(p);
  dosChart(p);
  mkDiv('lbl',p.x0,p.lby-8,p.lab);
  mkDiv('ttl',p.tx,p.ty-5,p.ttl);
  const items=[['Total',p.totCol],['Li','#00e000'],['H','#0000ff'],['F','#ff0000']];
  items.forEach(([t,c],i)=>{
    const y=p.ly+i*p.ldy;
    mkDiv('bar',p.lx,y-1,'',{width:'19px',background:c});
    mkDiv('lg',p.lx+22,y-4.5,t);
  });
  mkDiv('lg',p.bx,p.by-4,'Bandgap: '+p.gap+' eV',{fontSize:'8px'});
});
</script>
</body></html>
